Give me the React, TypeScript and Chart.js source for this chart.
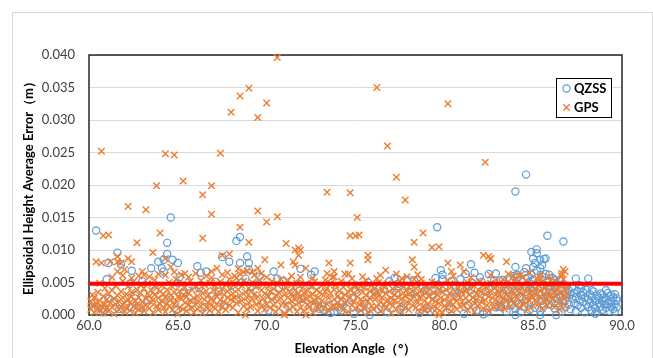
import React, { useEffect, useRef } from "react";
import { Chart, registerables } from "chart.js";

Chart.register(...registerables);

const xTickValues = [60, 65, 70, 75, 80, 85, 90];
const yTickValues = [0, 0.005, 0.01, 0.015, 0.02, 0.025, 0.03, 0.035, 0.04];
const thresholdValue = 0.0048;
const xTitle = "Elevation Angle（°）";
const yTitle = "Ellipsoidal Height Average Error（m）";
const legendLabels = ["QZSS", "GPS"];

const gpsOutliers: [number, number][] = [
  [70.6, 0.0396], [69.0, 0.0349], [68.5, 0.0337], [70.0, 0.0326], [68.0, 0.0312], [69.5, 0.0304],
  [60.7, 0.0252], [64.3, 0.0248], [64.8, 0.0246], [67.4, 0.0249], [65.3, 0.0206], [63.8, 0.0199],
  [66.9, 0.0199], [66.4, 0.0185], [62.2, 0.0167], [63.2, 0.0162], [66.9, 0.0155], [69.5, 0.016],
  [70.6, 0.0151], [70.0, 0.0143], [68.5, 0.0135], [73.4, 0.0189], [74.7, 0.0188], [60.8, 0.0122],
  [61.1, 0.0123], [64.0, 0.0126], [62.7, 0.0111], [66.4, 0.0118], [69.0, 0.0112], [71.1, 0.011],
  [74.7, 0.0122], [75.0, 0.0122], [75.1, 0.015], [63.6, 0.0096], [71.8, 0.0103], [71.6, 0.01], [74.7, 0.008],
  [76.2, 0.035], [80.2, 0.0325], [76.8, 0.026], [77.3, 0.0212], [82.3, 0.0235], [77.8, 0.0177],
  [75.2, 0.0123], [78.8, 0.0126], [78.3, 0.0112], [79.3, 0.0104], [79.7, 0.0105], [75.7, 0.0092],
  [75.7, 0.0085], [78.2, 0.0085], [82.2, 0.0092], [82.6, 0.0087], [83.5, 0.0082], [76.7, 0.0069],
  [86.7, 0.007], [60.4, 0.0082], [60.7, 0.008], [61.6, 0.009], [61.6, 0.0082], [61.8, 0.008],
  [62.2, 0.0087], [62.4, 0.0082], [61.2, 0.0082], [61.6, 0.0067], [62.0, 0.007], [63.0, 0.0067],
  [63.1, 0.0062], [64.3, 0.0087], [64.6, 0.0074], [65.4, 0.0064], [66.0, 0.0064], [66.9, 0.0067],
  [67.2, 0.0072], [67.5, 0.0092], [71.9, 0.01], [71.8, 0.0092], [71.5, 0.0082], [71.6, 0.0077],
  [69.9, 0.0085], [67.9, 0.0094], [69.5, 0.0072], [70.8, 0.0077], [72.2, 0.0072], [73.5, 0.008],
  [73.8, 0.0059], [74.4, 0.0063], [74.6, 0.0063], [72.2, 0.0], [78.3, 0.0074], [76.2, 0.0056],
  [77.6, 0.0056], [78.7, 0.0055], [80.2, 0.008], [80.4, 0.0067], [80.9, 0.0077], [81.1, 0.0067],
  [82.5, 0.009], [79.6, 0.0003], [82.6, 0.0086], [86.8, 0.0067], [86.6, 0.0064], [85.9, 0.0059],
  [85.4, 0.0056], [83.1, 0.0013],
];

const gpsBand: [number, number][] = [
  [60.1, 0.0021], [60.1, 0.0009], [60.2, 0.0031], [60.2, 0.0015], [60.3, 0.0004], [60.3, 0.0026], [60.4, 0.0018], [60.5, 0.0011], [60.5, 0.0035], [60.6, 0.0007], [60.6, 0.0022], [60.7, 0.0014], [60.8, 0.0029], [60.8, 0.0003], [60.9, 0.0017], [60.9, 0.0041], [61.0, 0.001], [61.0, 0.0024], [60.6, 0.0049],
  [61.1, 0.0033], [61.1, 0.0006], [61.2, 0.0019], [61.3, 0.0012], [61.3, 0.0038], [61.4, 0.0025], [61.4, 0.0002], [61.5, 0.0016], [61.5, 0.0045], [61.6, 0.003], [61.7, 0.0008], [61.7, 0.0021], [61.8, 0.0036], [61.8, 0.0013], [61.9, 0.0027], [61.9, 0.0052], [62.0, 0.0005], [62.0, 0.0018], [61.3, 0.0058], [61.9, 0.0061],
  [62.1, 0.0032], [62.1, 0.0011], [62.2, 0.0024], [62.2, 0.0044], [62.3, 0.0007], [62.3, 0.0019], [62.4, 0.0035], [62.4, 0.0028], [62.5, 0.0013], [62.5, 0.0051], [62.6, 0.0003], [62.6, 0.0022], [62.7, 0.0039], [62.7, 0.0016], [62.8, 0.0027], [62.8, 0.0009], [62.9, 0.0046], [62.9, 0.0034], [63.0, 0.002], [63.0, 0.0012], [62.4, 0.0057], [62.8, 0.006],
  [63.1, 0.0041], [63.1, 0.0006], [63.2, 0.0025], [63.2, 0.0015], [63.3, 0.0033], [63.3, 0.0048], [63.4, 0.001], [63.4, 0.0029], [63.5, 0.0019], [63.5, 0.0038], [63.6, 0.0004], [63.6, 0.0023], [63.7, 0.0031], [63.7, 0.0054], [63.8, 0.0014], [63.8, 0.0042], [63.9, 0.0008], [63.9, 0.0026], [64.0, 0.0036], [64.0, 0.0017], [63.4, 0.0059], [63.9, 0.0063],
  [64.1, 0.0022], [64.1, 0.0045], [64.2, 0.0011], [64.2, 0.0032], [64.3, 0.0027], [64.3, 0.0005], [64.4, 0.0039], [64.4, 0.0018], [64.5, 0.005], [64.5, 0.0013], [64.6, 0.003], [64.6, 0.0024], [64.7, 0.0008], [64.7, 0.0043], [64.8, 0.0035], [64.8, 0.0016], [64.9, 0.0021], [64.9, 0.0055], [65.0, 0.0002], [65.0, 0.0028], [64.3, 0.0061], [64.8, 0.0066],
  [65.1, 0.0037], [65.1, 0.0012], [65.2, 0.0025], [65.2, 0.0047], [65.3, 0.0009], [65.3, 0.0031], [65.4, 0.0019], [65.4, 0.0042], [65.5, 0.0006], [65.5, 0.0028], [65.6, 0.0034], [65.6, 0.0015], [65.7, 0.0052], [65.7, 0.0022], [65.8, 0.0011], [65.8, 0.0039], [65.9, 0.0026], [65.9, 0.0004], [66.0, 0.0044], [66.0, 0.0017], [65.6, 0.0058], [65.2, 0.0062],
  [66.1, 0.0029], [66.1, 0.0009], [66.2, 0.004], [66.2, 0.0021], [66.3, 0.0014], [66.3, 0.0053], [66.4, 0.0033], [66.4, 0.0003], [66.5, 0.0024], [66.5, 0.0046], [66.6, 0.0012], [66.6, 0.0037], [66.7, 0.0019], [66.7, 0.003], [66.8, 0.0007], [66.8, 0.0049], [66.9, 0.0026], [66.9, 0.0015], [67.0, 0.0038], [67.0, 0.0022], [66.6, 0.006], [66.9, 0.0057],
  [67.1, 0.001], [67.1, 0.0045], [67.2, 0.0029], [67.2, 0.0017], [67.3, 0.0035], [67.3, 0.0005], [67.4, 0.0023], [67.4, 0.0051], [67.5, 0.0013], [67.5, 0.004], [67.6, 0.0031], [67.6, 0.002], [67.7, 0.0008], [67.7, 0.0047], [67.8, 0.0027], [67.8, 0.0036], [67.9, 0.0015], [67.9, 0.0055], [68.0, 0.0024], [68.0, 0.0042], [67.5, 0.0062], [67.8, 0.0065],
  [68.1, 0.0033], [68.1, 0.0011], [68.2, 0.0048], [68.2, 0.0026], [68.3, 0.0057], [68.3, 0.0018], [68.4, 0.0039], [68.4, 0.0004], [68.5, 0.003], [68.5, 0.0063], [68.6, 0.0022], [68.6, 0.0045], [68.7, 0.0014], [68.7, 0.0052], [68.8, 0.0035], [68.8, 0.0], [68.9, 0.0027], [68.9, 0.0068], [69.0, 0.0041], [69.0, 0.0019], [68.4, 0.0071], [68.7, 0.0066], [68.9, 0.0009], [68.2, 0.006],
  [69.1, 0.0036], [69.1, 0.0012], [69.2, 0.005], [69.2, 0.0024], [69.3, 0.0031], [69.3, 0.0061], [69.4, 0.0016], [69.4, 0.0043], [69.5, 0.0028], [69.5, 0.0006], [69.6, 0.0054], [69.6, 0.002], [69.7, 0.0038], [69.7, 0.0013], [69.8, 0.0047], [69.8, 0.0025], [69.9, 0.0009], [69.9, 0.0033], [70.0, 0.0058], [70.0, 0.0017], [69.2, 0.0066], [69.7, 0.0064],
  [70.1, 0.0029], [70.1, 0.0044], [70.2, 0.0011], [70.2, 0.0036], [70.3, 0.0023], [70.3, 0.0052], [70.4, 0.0015], [70.4, 0.004], [70.5, 0.003], [70.5, 0.0005], [70.6, 0.0047], [70.6, 0.0021], [70.7, 0.0034], [70.7, 0.001], [70.8, 0.0026], [70.8, 0.0055], [70.9, 0.0018], [70.9, 0.0039], [71.0, 0.0003], [71.0, 0.0031], [71.0, 0.0],
  [71.1, 0.0042], [71.1, 0.0016], [71.2, 0.0027], [71.2, 0.0053], [71.3, 0.0008], [71.3, 0.0035], [71.4, 0.0021], [71.4, 0.0046], [71.5, 0.0013], [71.5, 0.003], [71.6, 0.0038], [71.6, 0.0024], [71.7, 0.0005], [71.7, 0.0049], [71.8, 0.0019], [71.8, 0.0033], [71.9, 0.0028], [71.9, 0.0011], [72.0, 0.0041], [72.0, 0.0022], [71.4, 0.006], [71.9, 0.0058],
  [72.1, 0.0034], [72.1, 0.0007], [72.2, 0.0025], [72.2, 0.0048], [72.3, 0.0016], [72.3, 0.0037], [72.4, 0.0029], [72.4, 0.0012], [72.5, 0.0044], [72.5, 0.002], [72.6, 0.0032], [72.6, 0.0004], [72.7, 0.0051], [72.7, 0.0023], [72.8, 0.0014], [72.8, 0.0039], [72.9, 0.0027], [72.9, 0.0009], [73.0, 0.0035], [73.0, 0.0018], [72.6, 0.0057],
  [73.1, 0.0045], [73.1, 0.0021], [73.2, 0.003], [73.2, 0.001], [73.3, 0.0054], [73.3, 0.0036], [73.4, 0.0017], [73.4, 0.0041], [73.5, 0.0026], [73.5, 0.0006], [73.6, 0.0049], [73.6, 0.0033], [73.7, 0.0014], [73.7, 0.0058], [73.8, 0.0024], [73.8, 0.0039], [73.9, 0.0011], [73.9, 0.0046], [74.0, 0.0029], [74.0, 0.0019], [73.4, 0.0064], [73.8, 0.0067],
  [74.1, 0.0037], [74.1, 0.0013], [74.2, 0.0052], [74.2, 0.0025], [74.3, 0.0008], [74.3, 0.0043], [74.4, 0.0031], [74.4, 0.0018], [74.5, 0.0022], [74.5, 0.0048], [74.6, 0.0035], [74.6, 0.0005], [74.7, 0.0027], [74.7, 0.004], [74.8, 0.0015], [74.8, 0.0056], [74.9, 0.0033], [74.9, 0.002], [75.0, 0.0044], [75.0, 0.001],
  [75.1, 0.0028], [75.1, 0.0039], [75.2, 0.0016], [75.2, 0.0047], [75.3, 0.0024], [75.3, 0.0007], [75.4, 0.0035], [75.4, 0.0019], [75.5, 0.0042], [75.5, 0.0012], [75.6, 0.003], [75.6, 0.0053], [75.7, 0.0021], [75.7, 0.0004], [75.8, 0.0037], [75.8, 0.0026], [75.9, 0.0014], [75.9, 0.0045], [76.0, 0.0032], [76.0, 0.0009], [75.4, 0.0059],
  [76.1, 0.0024], [76.1, 0.0041], [76.2, 0.0013], [76.2, 0.0035], [76.3, 0.0029], [76.3, 0.005], [76.4, 0.0006], [76.4, 0.002], [76.5, 0.0038], [76.5, 0.0027], [76.6, 0.0016], [76.6, 0.0044], [76.7, 0.0033], [76.7, 0.001], [76.8, 0.0023], [76.8, 0.0048], [76.9, 0.0018], [76.9, 0.0036], [77.0, 0.0003], [77.0, 0.0026], [76.4, 0.0061],
  [77.1, 0.004], [77.1, 0.0014], [77.2, 0.0031], [77.2, 0.0022], [77.3, 0.0009], [77.3, 0.0046], [77.4, 0.0027], [77.4, 0.0037], [77.5, 0.0017], [77.5, 0.0052], [77.6, 0.0025], [77.6, 0.0005], [77.7, 0.0034], [77.7, 0.0043], [77.8, 0.0012], [77.8, 0.0029], [77.9, 0.002], [77.9, 0.0039], [78.0, 0.0008], [78.0, 0.0032], [77.3, 0.0063], [77.9, 0.0059],
  [78.1, 0.0046], [78.1, 0.0023], [78.2, 0.0015], [78.2, 0.0036], [78.3, 0.0028], [78.3, 0.0055], [78.4, 0.0011], [78.4, 0.0041], [78.5, 0.0033], [78.5, 0.0019], [78.6, 0.0005], [78.6, 0.0026], [78.7, 0.0038], [78.7, 0.0049], [78.8, 0.0014], [78.8, 0.003], [78.9, 0.0022], [78.9, 0.0008], [79.0, 0.0043], [79.0, 0.0035], [78.5, 0.0062],
  [79.1, 0.0017], [79.1, 0.0029], [79.2, 0.004], [79.2, 0.0007], [79.3, 0.0024], [79.3, 0.0051], [79.4, 0.0013], [79.4, 0.0034], [79.5, 0.0045], [79.5, 0.0021], [79.6, 0.0031], [79.6, 0.001], [79.7, 0.0038], [79.7, 0.0018], [79.8, 0.0026], [79.8, 0.0047], [79.9, 0.0004], [79.9, 0.0035], [80.0, 0.0023], [80.0, 0.0014], [79.7, 0.0],
  [80.1, 0.0039], [80.1, 0.0011], [80.2, 0.0028], [80.2, 0.0053], [80.3, 0.0019], [80.3, 0.0034], [80.4, 0.0006], [80.4, 0.0043], [80.5, 0.0025], [80.5, 0.0016], [80.6, 0.0037], [80.6, 0.0048], [80.7, 0.0022], [80.7, 0.0009], [80.8, 0.003], [80.8, 0.0041], [80.9, 0.0013], [80.9, 0.0027], [81.0, 0.0035], [81.0, 0.002], [80.5, 0.006],
  [81.1, 0.0044], [81.1, 0.0015], [81.2, 0.0026], [81.2, 0.0036], [81.3, 0.0008], [81.3, 0.005], [81.4, 0.0021], [81.4, 0.0031], [81.5, 0.0012], [81.5, 0.004], [81.6, 0.0027], [81.6, 0.0047], [81.7, 0.0018], [81.7, 0.0005], [81.8, 0.0033], [81.8, 0.0024], [81.9, 0.0039], [81.9, 0.0014], [82.0, 0.0029], [82.0, 0.0052], [81.5, 0.0058],
  [82.1, 0.002], [82.1, 0.0037], [82.2, 0.001], [82.2, 0.0045], [82.3, 0.0032], [82.3, 0.0023], [82.4, 0.0015], [82.4, 0.0041], [82.5, 0.0028], [82.5, 0.0006], [82.6, 0.0035], [82.6, 0.0049], [82.7, 0.0018], [82.7, 0.0026], [82.8, 0.0042], [82.8, 0.0011], [82.9, 0.0031], [82.9, 0.0054], [83.0, 0.0022], [83.0, 0.0038], [82.6, 0.0061],
  [83.1, 0.003], [83.1, 0.0047], [83.2, 0.0016], [83.2, 0.0039], [83.3, 0.0025], [83.3, 0.0055], [83.4, 0.0034], [83.4, 0.0009], [83.5, 0.0043], [83.5, 0.0021], [83.6, 0.0028], [83.6, 0.0051], [83.7, 0.0013], [83.7, 0.0037], [83.8, 0.0046], [83.8, 0.0024], [83.9, 0.0032], [83.9, 0.0018], [84.0, 0.0057], [84.0, 0.004], [83.6, 0.0063], [83.9, 0.006],
  [84.1, 0.0027], [84.1, 0.0049], [84.2, 0.0035], [84.2, 0.0012], [84.3, 0.0044], [84.3, 0.002], [84.4, 0.0031], [84.4, 0.0058], [84.5, 0.0016], [84.5, 0.0038], [84.6, 0.0025], [84.6, 0.0053], [84.7, 0.0042], [84.7, 0.0008], [84.8, 0.0034], [84.8, 0.0022], [84.9, 0.0047], [84.9, 0.0029], [85.0, 0.0014], [85.0, 0.0036], [84.3, 0.0062], [84.8, 0.0065],
  [85.1, 0.004], [85.1, 0.0023], [85.2, 0.0056], [85.2, 0.0031], [85.3, 0.0017], [85.3, 0.0045], [85.4, 0.0028], [85.4, 0.0037], [85.5, 0.001], [85.5, 0.005], [85.6, 0.0033], [85.6, 0.0021], [85.7, 0.0042], [85.7, 0.0026], [85.8, 0.0015], [85.8, 0.0048], [85.9, 0.0035], [85.9, 0.0019], [86.0, 0.003], [86.0, 0.0053], [85.4, 0.0061],
  [86.1, 0.0024], [86.1, 0.0044], [86.2, 0.0012], [86.2, 0.0036], [86.3, 0.0029], [86.3, 0.0051], [86.4, 0.0018], [86.4, 0.004], [86.5, 0.0033], [86.5, 0.0008], [86.6, 0.0046], [86.6, 0.0022], [86.7, 0.0031], [86.7, 0.0055], [86.8, 0.0014], [86.8, 0.0038], [86.9, 0.0027], [86.9, 0.0043], [86.6, 0.006],
];

const qzssOutliers: [number, number][] = [
  [60.4, 0.013], [64.6, 0.015], [64.4, 0.0111], [68.3, 0.0114], [68.5, 0.012], [61.6, 0.0096],
  [68.9, 0.009], [84.6, 0.0216], [84.0, 0.019], [79.6, 0.0135], [85.8, 0.0122], [86.7, 0.0113],
  [84.9, 0.0097], [85.2, 0.0101], [85.2, 0.0095], [85.7, 0.0087], [81.5, 0.0078], [79.8, 0.0069],
  [88.1, 0.0056], [87.4, 0.0056], [61.1, 0.008], [61.8, 0.0078], [62.4, 0.0068], [63.9, 0.0082],
  [64.2, 0.0085], [64.4, 0.0094], [64.7, 0.0085], [65.0, 0.008], [63.5, 0.0072], [64.1, 0.0072],
  [64.2, 0.0067], [65.1, 0.0058], [66.1, 0.0075], [66.3, 0.0065], [66.6, 0.0067], [69.0, 0.008],
  [69.0, 0.007], [67.5, 0.0089], [67.9, 0.0082], [68.5, 0.008], [70.4, 0.0067], [70.6, 0.0056],
  [71.9, 0.0071], [72.7, 0.0067], [72.5, 0.0062], [79.9, 0.0062], [79.9, 0.0055], [81.2, 0.0063],
  [81.7, 0.0065], [77.2, 0.0057], [77.9, 0.0054], [82.1, 0.0051], [82.5, 0.0063], [85.0, 0.0087],
  [85.4, 0.0085], [85.6, 0.0086], [85.1, 0.008], [85.0, 0.0074], [85.4, 0.0072], [85.5, 0.0077],
  [84.0, 0.0074], [84.6, 0.0072], [84.1, 0.0062], [83.9, 0.006], [82.9, 0.0064], [83.3, 0.0054],
  [85.9, 0.0062], [86.2, 0.0054],
];

const qzssBand: [number, number][] = [
  [61.1, 0.0025], [60.9, 0.0008], [62.4, 0.0012], [60.3, 0.0018], [60.5, 0.0012], [60.8, 0.0004],
  [61.4, 0.0021], [61.7, 0.0009], [62.1, 0.0016], [62.6, 0.003], [62.9, 0.0011], [63.3, 0.0023],
  [63.7, 0.0038], [64.1, 0.0014], [64.5, 0.0027], [64.9, 0.0008], [65.3, 0.0033], [65.8, 0.0019],
  [66.2, 0.0041], [66.5, 0.0012], [66.9, 0.0029], [67.3, 0.0036], [67.6, 0.0015], [68.0, 0.0045],
  [68.3, 0.0024], [68.6, 0.005], [69.1, 0.0033], [69.4, 0.0047], [69.8, 0.0018], [70.3, 0.0028],
  [70.7, 0.0042], [71.2, 0.0014], [71.5, 0.0035], [72.0, 0.0025], [72.4, 0.0046], [72.9, 0.002],
  [73.2, 0.0008], [73.5, 0.0015], [73.8, 0.0005], [74.0, 0.0012], [74.3, 0.002], [74.8, 0.0026],
  [75.2, 0.0044], [75.5, 0.0017], [75.9, 0.0031], [76.3, 0.0009], [76.6, 0.004], [77.0, 0.0022],
  [77.4, 0.0048], [77.7, 0.0013], [78.1, 0.0035], [78.4, 0.0027], [78.8, 0.0042], [79.0, 0.001],
  [79.4, 0.0031], [79.7, 0.0046], [80.1, 0.0019], [80.4, 0.0052], [80.7, 0.0028], [81.0, 0.004],
  [81.3, 0.0015], [81.6, 0.0049], [81.9, 0.0024], [82.3, 0.0036], [82.7, 0.0044], [82.9, 0.0012],
  [70.1, 0.0007], [72.7, 0.0013], [73.0, 0.0009], [74.1, 0.0031], [74.5, 0.001], [75.0, 0.0038],
  [73.6, 0.0003], [74.2, 0.0007], [74.9, 0.0002], [75.3, 0.0011], [75.6, 0.0006], [75.8, 0.0],
  [76.8, 0.0004], [77.5, 0.0008], [78.6, 0.0003], [79.2, 0.0006], [80.3, 0.0009], [81.1, 0.0002],
  [81.8, 0.0007], [82.2, 0.0001], [82.4, 0.0004], [79.3, 0.0038], [80.9, 0.0041], [81.5, 0.0038],
  [75.7, 0.005], [76.1, 0.0036], [76.9, 0.0052], [77.3, 0.0034], [77.8, 0.0044], [78.3, 0.0053],
  [78.9, 0.0038], [79.5, 0.0057], [80.0, 0.0042], [80.6, 0.0036], [80.9, 0.0055], [81.4, 0.0045],
  [82.0, 0.0058], [82.5, 0.004], [82.8, 0.0053], [61.0, 0.0055], [62.3, 0.0048], [63.0, 0.0052],
  [65.0, 0.0049], [65.6, 0.0044], [67.1, 0.0051], [68.8, 0.0056], [69.6, 0.0059], [70.9, 0.0052],
  [71.8, 0.0048],
  [83.1, 0.0024], [83.1, 0.0041], [83.2, 0.0012], [83.3, 0.0033], [83.4, 0.0048], [83.4, 0.0019], [83.5, 0.0005], [83.6, 0.0028], [83.6, 0.0039], [83.7, 0.0055], [83.8, 0.0015], [83.8, 0.0031], [83.9, 0.0044], [84.0, 0.0022], [84.0, 0.0009],
  [84.1, 0.0036], [84.1, 0.0058], [84.2, 0.0017], [84.2, 0.0045], [84.3, 0.0029], [84.3, 0.0004], [84.4, 0.0051], [84.4, 0.0038], [84.5, 0.0013], [84.5, 0.0066], [84.6, 0.0025], [84.6, 0.0043], [84.7, 0.0057], [84.7, 0.0032], [84.8, 0.0008], [84.8, 0.0049], [84.9, 0.002], [84.9, 0.0062], [85.0, 0.0037], [85.0, 0.0054],
  [85.1, 0.0011], [85.1, 0.0046], [85.2, 0.0068], [85.2, 0.0027], [85.3, 0.0052], [85.3, 0.0034], [85.4, 0.0006], [85.4, 0.0041], [85.5, 0.0059], [85.5, 0.0022], [85.6, 0.0047], [85.6, 0.0013], [85.7, 0.0035], [85.7, 0.0063], [85.8, 0.0028], [85.8, 0.005], [85.9, 0.0016], [85.9, 0.0039], [86.0, 0.0045], [86.0, 0.0024],
  [86.1, 0.0057], [86.1, 0.0033], [86.2, 0.001], [86.2, 0.0042], [86.3, 0.0026], [86.3, 0.0049], [86.4, 0.0018], [86.4, 0.0036], [86.5, 0.0053], [86.5, 0.0029], [86.6, 0.0005], [86.6, 0.004], [86.7, 0.0021], [86.7, 0.0047], [86.8, 0.0034], [86.8, 0.0012], [86.9, 0.0044], [86.9, 0.0027], [87.0, 0.0038], [87.0, 0.0016],
  [87.1, 0.0031], [87.1, 0.0009], [87.2, 0.0025], [87.2, 0.0042], [87.3, 0.0018], [87.3, 0.0034], [87.4, 0.0028], [87.4, 0.0006], [87.5, 0.0037], [87.5, 0.0015], [87.6, 0.0023], [87.6, 0.0046], [87.7, 0.0011], [87.7, 0.003], [87.8, 0.002], [87.8, 0.0035], [87.9, 0.0027], [87.9, 0.0004], [88.0, 0.0016], [88.0, 0.0039],
  [88.1, 0.0024], [88.1, 0.0012], [88.2, 0.0032], [88.2, 0.0019], [88.3, 0.0007], [88.3, 0.0028], [88.4, 0.0036], [88.4, 0.0015], [88.5, 0.0022], [88.5, 0.001], [88.6, 0.003], [88.6, 0.0004], [88.7, 0.0018], [88.7, 0.0026], [88.8, 0.0013], [88.8, 0.0033], [88.9, 0.0021], [88.9, 0.0008], [89.0, 0.0027], [89.0, 0.0016],
  [89.1, 0.0011], [89.1, 0.0024], [89.2, 0.0034], [89.2, 0.0018], [89.3, 0.0006], [89.3, 0.0029], [89.4, 0.0021], [89.4, 0.0013], [89.5, 0.0027], [89.5, 0.0009], [89.6, 0.0017], [89.6, 0.0032], [89.7, 0.0022], [89.7, 0.0012], [89.7, 0.0026], [89.6, 0.0005],
  [83.1, 0.0013], [84.0, 0.0], [85.4, 0.0], [86.3, 0.0], [88.5, 0.0002], [88.3, 0.0038], [89.1, 0.0038], [88.9, 0.0031], [89.4, 0.0031], [87.7, 0.0041],
];

const FONT = "Lato, 'Liberation Sans', Arial, sans-serif";
const QZSS_COLOR = "#5B9BD5";
const GPS_COLOR = "#ED7D31";

const toXY = (arr: [number, number][]) => arr.map(([x, y]) => ({ x, y }));

export default function App() {
  const canvasRef = useRef<HTMLCanvasElement | null>(null);

  useEffect(() => {
    document.body.style.margin = "0";
    const canvas = canvasRef.current;
    if (!canvas) return;

    const framePlugin = {
      id: "frame",
      beforeDraw(chart: any) {
        const ctx = chart.ctx;
        ctx.save();
        ctx.fillStyle = "#ffffff";
        ctx.fillRect(0, 0, chart.width, chart.height);
        ctx.strokeStyle = "#D9D9D9";
        ctx.lineWidth = 1;
        ctx.strokeRect(12.5, 12.5, chart.width - 13, chart.height);
        ctx.restore();
      },
      beforeDatasetsDraw(chart: any) {
        const { ctx, chartArea } = chart;
        ctx.save();
        ctx.strokeStyle = "#262626";
        ctx.lineWidth = 1.5;
        ctx.strokeRect(
          Math.round(chartArea.left),
          Math.round(chartArea.top),
          Math.round(chartArea.right - chartArea.left),
          Math.round(chartArea.bottom - chartArea.top)
        );
        ctx.restore();
      },
      afterDraw(chart: any) {
        const ctx = chart.ctx;
        ctx.save();
        const bx = 556.5, by = 78.5, bw = 55, bh = 39;
        ctx.fillStyle = "#ffffff";
        ctx.fillRect(bx, by, bw, bh);
        ctx.strokeStyle = "#000000";
        ctx.lineWidth = 1;
        ctx.strokeRect(bx, by, bw, bh);
        ctx.strokeStyle = QZSS_COLOR;
        ctx.lineWidth = 1.2;
        ctx.beginPath();
        ctx.arc(566.5, 88.5, 3.6, 0, Math.PI * 2);
        ctx.stroke();
        ctx.strokeStyle = GPS_COLOR;
        ctx.lineWidth = 1.4;
        ctx.beginPath();
        ctx.moveTo(563.3, 104.3);
        ctx.lineTo(569.7, 110.7);
        ctx.moveTo(569.7, 104.3);
        ctx.lineTo(563.3, 110.7);
        ctx.stroke();
        ctx.fillStyle = "#000000";
        ctx.font = `bold 13px ${FONT}`;
        ctx.textBaseline = "middle";
        ctx.textAlign = "left";
        ctx.fillText(legendLabels[0], 574, 89);
        ctx.fillText(legendLabels[1], 574, 108);
        ctx.restore();
      },
    };

    const chart = new Chart(canvas, {
      type: "scatter",
      data: {
        datasets: [
          {
            label: "threshold",
            data: [
              { x: xTickValues[0], y: thresholdValue },
              { x: xTickValues[xTickValues.length - 1], y: thresholdValue },
            ],
            showLine: true,
            borderColor: "#FF0000",
            backgroundColor: "#FF0000",
            borderWidth: 4,
            pointRadius: 0,
            order: 0,
          },
          {
            label: legendLabels[1],
            data: toXY([...gpsBand, ...gpsOutliers]),
            pointStyle: "crossRot",
            pointRadius: 4.6,
            borderColor: GPS_COLOR,
            backgroundColor: "rgba(0,0,0,0)",
            borderWidth: 1.4,
            clip: false,
            order: 1,
          },
          {
            label: legendLabels[0],
            data: toXY([...qzssBand, ...qzssOutliers]),
            pointStyle: "circle",
            pointRadius: 3.6,
            borderColor: QZSS_COLOR,
            backgroundColor: "rgba(0,0,0,0)",
            borderWidth: 1.2,
            clip: false,
            order: 2,
          },
        ] as any,
      },
      options: {
        animation: false,
        responsive: false,
        events: [],
        layout: { padding: { left: 0, top: 55, right: 31, bottom: 0 } },
        plugins: {
          legend: { display: false },
          tooltip: { enabled: false },
        },
        scales: {
          x: {
            type: "linear",
            min: xTickValues[0],
            max: xTickValues[xTickValues.length - 1],
            afterBuildTicks: (s: any) => {
              s.ticks = xTickValues.map((v) => ({ value: v }));
            },
            afterFit: (s: any) => {
              s.height = 43;
            },
            ticks: {
              callback: (v: any) => Number(v).toFixed(1),
              font: { family: FONT, size: 13 },
              color: "#404040",
              padding: 3,
              maxRotation: 0,
            },
            grid: { display: false, drawTicks: false },
            border: { display: false },
            title: {
              display: true,
              text: xTitle,
              font: { family: FONT, size: 13, weight: "bold" },
              color: "#000000",
              padding: { top: 1, bottom: 1 },
            },
          },
          y: {
            type: "linear",
            min: yTickValues[0],
            max: yTickValues[yTickValues.length - 1],
            afterBuildTicks: (s: any) => {
              s.ticks = yTickValues.map((v) => ({ value: v }));
            },
            afterFit: (s: any) => {
              s.width = 89;
            },
            ticks: {
              callback: (v: any) => Number(v).toFixed(3),
              font: { family: FONT, size: 13 },
              color: "#404040",
              padding: 14,
            },
            grid: { color: "#D9D9D9", lineWidth: 1, drawTicks: false },
            border: { display: false },
            title: {
              display: true,
              text: yTitle,
              font: { family: FONT, size: 13, weight: "bold" },
              color: "#000000",
              padding: { top: 21, bottom: 0 },
            },
          },
        },
      } as any,
      plugins: [framePlugin],
    });

    return () => chart.destroy();
  }, []);

  return (
    <canvas
      ref={canvasRef}
      width={653}
      height={358}
      style={{ display: "block", width: 653, height: 358 }}
    />
  );
}
